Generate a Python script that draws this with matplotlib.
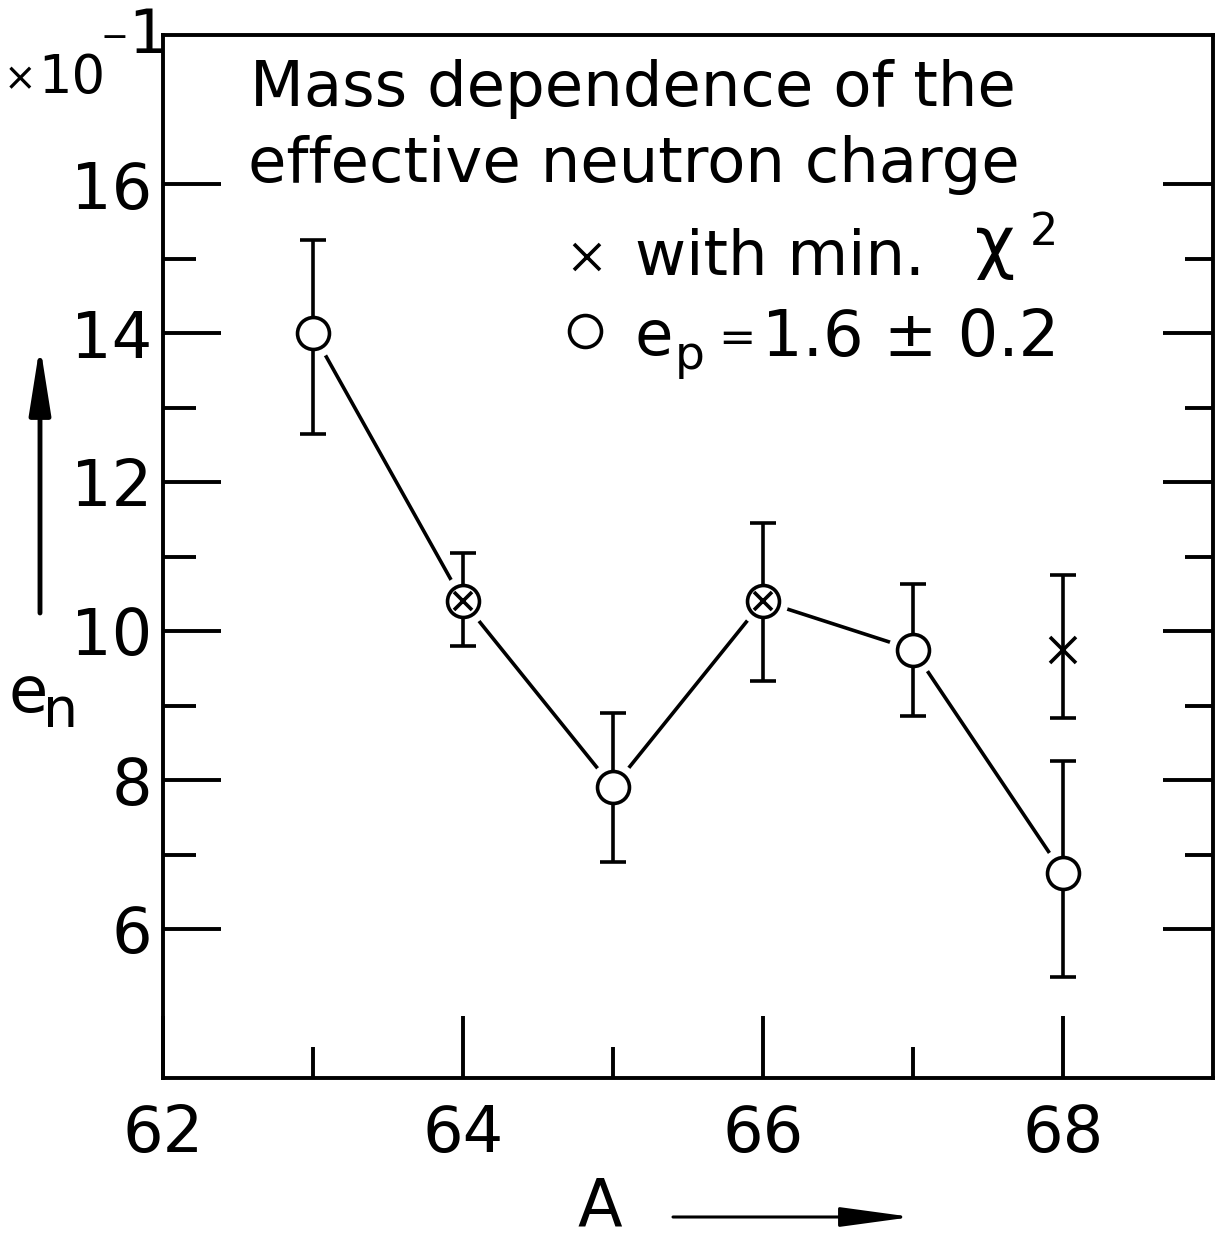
import matplotlib
matplotlib.use("Agg")
import matplotlib.pyplot as plt
from matplotlib.lines import Line2D
from matplotlib.patches import FancyArrowPatch

# ---- data ----
mass_A = [63, 64, 65, 66, 67, 68]
en_circle = [14.0, 10.4, 7.9, 10.4, 9.75, 6.75]
en_circle_low = [12.65, 9.8, 6.9, 9.33, 8.86, 5.35]
en_circle_high = [15.25, 11.05, 8.9, 11.45, 10.63, 8.25]
mass_both = [64, 66]          # points where both methods coincide (crossed circles)
en_both = [10.4, 10.4]
mass_chi = [68]               # min chi^2 point
en_chi = [9.75]
en_chi_low = [8.83]
en_chi_high = [10.75]
xtick_vals = [62, 64, 66, 68]
xtick_labels = ["62", "64", "66", "68"]
ytick_vals = [6, 8, 10, 12, 14, 16]
ytick_labels = ["6", "8", "10", "12", "14", "16"]

plt.rcParams['font.family'] = ['DejaVu Sans']
W, H = 1221, 1242
fig = plt.figure(figsize=(W / 100, H / 100), dpi=100)
fig.patch.set_facecolor('white')

def fx(x):
    return x / W

def fy(y):
    return 1 - y / H

L, R, T, B = 163, 1213, 35, 1078
ax = fig.add_axes([fx(L), fy(B), (R - L) / W, (B - T) / H])
ax.set_xlim(62, 69)
ax.set_ylim(4, 18)
LW = 2.8
for s in ax.spines.values():
    s.set_linewidth(LW)
    s.set_color('black')

# connecting line
ax.plot(mass_A, en_circle, color='black', lw=2.6, zorder=2, solid_capstyle='butt')
# white halo to make gaps between line and circles
ax.plot(mass_A, en_circle, ls='none', marker='o', ms=36, mfc='white', mec='none', zorder=3)
# error bars
err_lo = [v - l for v, l in zip(en_circle, en_circle_low)]
err_hi = [h - v for v, h in zip(en_circle, en_circle_high)]
ax.errorbar(mass_A, en_circle, yerr=[err_lo, err_hi], fmt='none', ecolor='black',
            elinewidth=2.6, capsize=9.7, capthick=2.6, zorder=4)
# open circles
ax.plot(mass_A, en_circle, ls='none', marker='o', ms=23, mfc='white', mec='black',
        mew=2.6, zorder=5)
# crosses inside circles
ax.plot(mass_both, en_both, ls='none', marker='x', ms=13, mec='black', mew=2.6, zorder=6)
# min chi^2 point
chi_lo = [v - l for v, l in zip(en_chi, en_chi_low)]
chi_hi = [h - v for v, h in zip(en_chi, en_chi_high)]
ax.errorbar(mass_chi, en_chi, yerr=[chi_lo, chi_hi], fmt='x', ms=19, mew=2.6, color='black',
            elinewidth=2.6, capsize=9.7, capthick=2.6, zorder=4)

# ticks
ax.set_xticks(xtick_vals)
ax.set_xticklabels(xtick_labels)
ax.set_xticks([63, 65, 67], minor=True)
ax.set_yticks(ytick_vals)
ax.set_yticklabels(ytick_labels)
ax.set_yticks([7, 9, 11, 13, 15], minor=True)
ax.tick_params(axis='x', which='major', direction='in', length=45, width=LW,
               labelsize=46, pad=18, top=False)
ax.tick_params(axis='x', which='minor', direction='in', length=22, width=LW, top=False)
ax.tick_params(axis='y', which='major', direction='in', length=42, width=LW,
               labelsize=46, pad=8, right=False)
ax.tick_params(axis='y', which='minor', direction='in', length=24, width=LW, right=False)

ax2 = ax.twinx()
ax2.set_ylim(4, 18)
for s in ax2.spines.values():
    s.set_visible(False)
ax2.set_yticks(ytick_vals)
ax2.set_yticks([7, 9, 11, 13, 15], minor=True)
ax2.tick_params(axis='y', which='major', direction='in', length=36, width=LW, labelright=False)
ax2.tick_params(axis='y', which='minor', direction='in', length=20, width=LW, labelright=False)

# ---- texts ----
def t(x, y, s, size, **kw):
    fig.text(fx(x), fy(y), s, fontsize=size, ha='left', va='baseline', **kw)

# x10^-1 multiplier
t(4, 90, "×", 28)
t(38, 93, "10", 38)
t(100, 47, "−", 24)
t(128, 53, "1", 44)

# title lines
t(250, 106, "Mass dependence of the", 45)
t(248, 182, "effective neutron charge", 45)

# legend lines
fig.add_artist(Line2D([fx(587)], [fy(257)], marker='x', ms=19, mew=2.6, color='black',
                      transform=fig.transFigure))
t(635, 275, "with min.", 45)
t(975, 266, "χ", 50)
t(1030, 245, "2", 32)
fig.add_artist(Line2D([fx(585)], [fy(331)], marker='o', ms=23, mew=2.6, mfc='white',
                      mec='black', transform=fig.transFigure))
t(635, 355, "e", 45)
t(675, 369, "p", 34)
t(718, 352, "=", 32)
t(762, 356, "1.6 ± 0.2", 46)

# axis labels
t(8, 712, "e", 46)
t(43, 727, "n", 40)
t(577, 1226, "A", 47)

# arrows
fig.add_artist(FancyArrowPatch((fx(40), fy(613)), (fx(40), fy(345)),
                               transform=fig.transFigure,
                               arrowstyle='-|>,head_length=41,head_width=6.5',
                               mutation_scale=1, lw=3.5, color='black',
                               shrinkA=0, shrinkB=0))
fig.add_artist(FancyArrowPatch((fx(673), fy(1217)), (fx(912), fy(1217)),
                               transform=fig.transFigure,
                               arrowstyle='-|>,head_length=44,head_width=6',
                               mutation_scale=1, lw=2.2, color='black',
                               shrinkA=0, shrinkB=0))

fig.savefig("out.png", dpi=100, facecolor='white')
